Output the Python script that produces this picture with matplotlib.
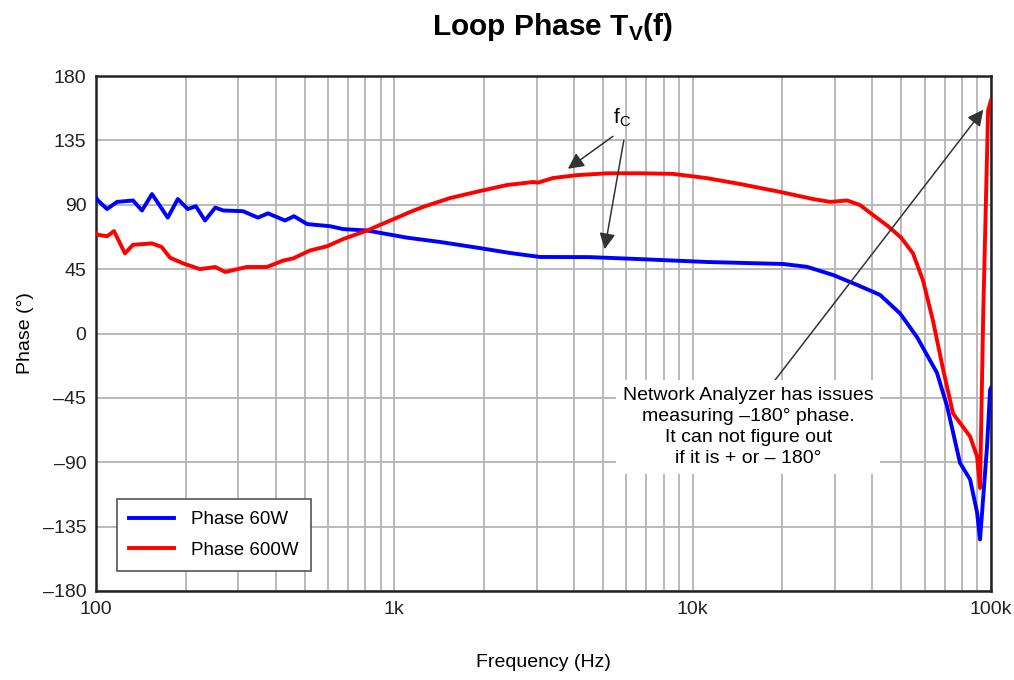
import matplotlib.pyplot as plt
from matplotlib.ticker import FixedLocator, NullFormatter

plt.rcParams['font.family'] = ['Liberation Sans', 'DejaVu Sans']
plt.rcParams['mathtext.fontset'] = 'custom'
plt.rcParams['mathtext.rm'] = 'Liberation Sans'
plt.rcParams['mathtext.bf'] = 'Liberation Sans:bold'

freq_60w = [100, 101.5, 108.9, 117.6, 133, 142.6, 154, 174, 188, 203, 216, 232, 251, 267,
            311, 349, 377, 430, 461, 510, 609, 673, 810, 916, 1103, 1422, 1937, 2442,
            3078, 4527, 6665, 11170, 20090, 24200, 29580, 35570, 42470, 49580, 56490,
            65920, 71290, 78750, 85110, 89800, 91900, 97000, 99300, 100000]
phase_60w = [95, 93, 87, 92, 93, 86, 97.5, 81, 94, 87, 89, 79, 88, 86,
             85.5, 81, 84, 79, 82, 76.5, 75, 73, 72, 70, 67, 64, 59.7, 56.3,
             53.5, 53.4, 52, 50, 48.6, 46.6, 40.9, 34, 27, 14, -2.5,
             -27.5, -51, -90.5, -102, -125, -144, -79, -39.5, -38]

freq_600w = [100, 101.5, 108.9, 114.9, 125, 133, 154, 166, 177, 196, 223, 251, 271, 320,
             374, 424, 458, 521, 595, 673, 810, 970, 1131, 1248, 1538, 1937, 2386, 2918,
             3033, 3404, 4095, 5166, 6665, 8590, 11170, 14420, 19630, 25350, 28900,
             32960, 36390, 40270, 45190, 50000, 54780, 59190, 63910, 69090, 74640, 85110,
             89800, 91900, 94200, 97800, 100000]
phase_600w = [70, 69, 68, 71.6, 56, 62, 63, 60.5, 53, 49, 45, 46.5, 43, 46.5,
              46.5, 51, 52.5, 58, 61, 66, 72, 79, 85, 88.5, 94.7, 99.6, 103.8, 105.9,
              105.5, 108.7, 110.7, 112, 112, 111.6, 108.6, 104.5, 99, 94, 92,
              93, 89.8, 82.8, 75, 67, 56, 37, 9, -25, -56, -72,
              -86, -108, 14, 156, 163]

xticks = [100, 1000, 10000, 100000]
xtick_labels = ['100', '1k', '10k', '100k']
yticks = [-180, -135, -90, -45, 0, 45, 90, 135, 180]

fig = plt.figure(figsize=(10.14, 6.8), dpi=100)
ax = fig.add_axes([0.0947, 0.1309, 0.8826, 0.7573])

ax.semilogx(freq_60w, phase_60w, color='#0000ff', lw=2.8, label='Phase 60W', zorder=3)
ax.semilogx(freq_600w, phase_600w, color='#ff0000', lw=2.8, label='Phase 600W', zorder=3)

ax.set_xlim(100, 100000)
ax.set_ylim(-180, 180)
ax.xaxis.set_major_locator(FixedLocator(xticks))
ax.set_xticklabels(xtick_labels)
ax.xaxis.set_minor_formatter(NullFormatter())
ax.set_yticks(yticks)
ax.set_yticklabels([str(v).replace('-', '\u2013') for v in yticks])
ax.tick_params(which='both', length=0, labelsize=14, colors='#222222', pad=7)
ax.grid(True, which='both', axis='x', color='#b4b4b4', lw=1.3)
ax.grid(True, which='major', axis='y', color='#b4b4b4', lw=1.3)
for s in ax.spines.values():
    s.set_linewidth(1.8)
    s.set_color('#222222')

ax.set_xlabel('Frequency (Hz)', fontsize=14, labelpad=26)
ax.set_ylabel('Phase (\u00b0)', fontsize=14, labelpad=6)
fig.text(0.5447, 0.96, r'Loop Phase T$_\mathbf{V}$(f)', fontsize=21.5,
         fontweight='bold', ha='center', va='center')

leg = ax.legend(loc='lower left', bbox_to_anchor=(0.0235, 0.039), borderaxespad=0,
                fontsize=13.5, fancybox=False, edgecolor='#555555', framealpha=1,
                handlelength=2.4, handletextpad=0.9, borderpad=0.65, labelspacing=0.7)
leg.get_frame().set_linewidth(1.2)

arrow = dict(arrowstyle='-|>', color='#333333', lw=1.1, mutation_scale=24)
ax.text(5800, 151, r'f$_\mathrm{C}$', fontsize=15, ha='center', va='center')
ax.annotate('', xy=(3750, 114), xytext=(5500, 139), arrowprops=arrow)
ax.annotate('', xy=(5050, 57), xytext=(5900, 137), arrowprops=arrow)

ax.annotate('', xy=(95500, 158), xytext=(18500, -35), arrowprops=arrow, zorder=4)
ax.text(15350, -65.5, 'Network Analyzer has issues\nmeasuring \u2013180\u00b0 phase.\n'
        'It can not figure out\nif it is + or \u2013 180\u00b0',
        fontsize=14, ha='center', va='center', linespacing=1.3, zorder=5,
        bbox=dict(facecolor='white', edgecolor='none', pad=5))

fig.savefig('out.png', dpi=100)
